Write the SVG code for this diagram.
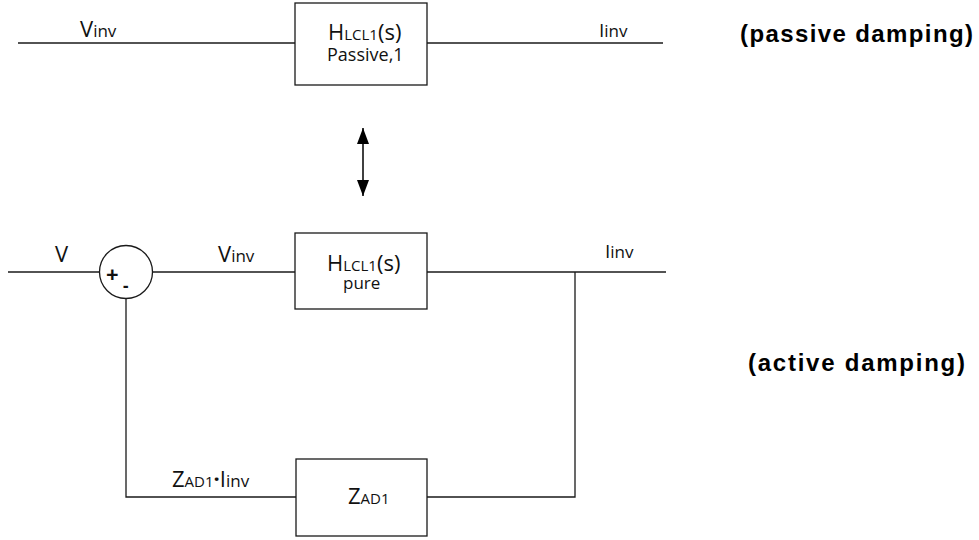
<svg xmlns="http://www.w3.org/2000/svg" width="979" height="540" viewBox="0 0 979 540">
<style>
.w{stroke:#1a1a1a;stroke-width:1.3;fill:none}
.b{stroke:#1a1a1a;stroke-width:1.3;fill:#fff}
.t{font-family:"Open Sans","Liberation Sans",sans-serif;fill:#111}
.big{font-size:22px}
.par{font-size:22px}
.sm{font-size:17px}
.sub{font-size:15px}
.hd{font-family:"Liberation Sans",Arial,sans-serif;font-weight:bold;font-size:24px;fill:#000}
</style>
<defs>
<marker id="ah" viewBox="0 0 16 12" refX="16" refY="6" markerWidth="16" markerHeight="12" markerUnits="userSpaceOnUse" orient="auto-start-reverse">
<path d="M0,0 L16,6 L0,12 Z" fill="#000"/>
</marker>
</defs>
<rect width="979" height="540" fill="#fff"/>
<g id="connectors">
<line class="w" x1="18" y1="43" x2="295" y2="43"/>
<line class="w" x1="427" y1="43" x2="663" y2="43"/>
<line class="w" x1="8" y1="272" x2="99.5" y2="272"/>
<line class="w" x1="152.5" y1="272" x2="295" y2="272"/>
<line class="w" x1="427" y1="272" x2="666" y2="272"/>
<polyline class="w" points="575,272 575,497 427,497"/>
<polyline class="w" points="126,298.5 126,497 296,497"/>
<line x1="363" y1="128" x2="363" y2="196" stroke="#000" stroke-width="1.5" marker-start="url(#ah)" marker-end="url(#ah)"/>
</g>
<g id="passive-block">
<rect class="b" x="295" y="3" width="132" height="82"/>
<text class="t" x="328" y="40"><tspan class="big">H</tspan><tspan class="sub">LCL1</tspan><tspan class="par">(s)</tspan></text>
<text class="t" x="327" y="61" font-size="18px">Passive,1</text>
</g>
<g id="top-labels">
<text class="t" x="80" y="37"><tspan class="big">V</tspan><tspan class="sm">inv</tspan></text>
<text class="t" x="599" y="37"><tspan font-size="19px">I</tspan><tspan class="sm">inv</tspan></text>
<text class="hd" x="740" y="42" textLength="233">(passive damping)</text>
</g>
<g id="sum">
<circle class="b" cx="126" cy="272" r="26.5"/>
<text class="t" x="106" y="282" font-size="22px" font-weight="bold">+</text>
<text class="t" x="123" y="292" font-size="17px" font-weight="bold">-</text>
</g>
<g id="pure-block">
<rect class="b" x="295" y="233" width="132" height="76"/>
<text class="t" x="327" y="271"><tspan class="big">H</tspan><tspan class="sub">LCL1</tspan><tspan class="par">(s)</tspan></text>
<text class="t" x="343" y="289" font-size="17px">pure</text>
</g>
<g id="ad-block">
<rect class="b" x="296" y="459" width="131" height="77"/>
<text class="t" x="348" y="504"><tspan class="big">Z</tspan><tspan class="sub">AD1</tspan></text>
</g>
<g id="bottom-labels">
<text class="t big" x="55" y="262">V</text>
<text class="t" x="218" y="262"><tspan class="big">V</tspan><tspan class="sm">inv</tspan></text>
<text class="t" x="605" y="258"><tspan font-size="19px">I</tspan><tspan class="sm">inv</tspan></text>
<text class="t" x="172" y="487"><tspan class="big">Z</tspan><tspan class="sub">AD1</tspan><tspan class="big" font-weight="bold">·</tspan><tspan class="big">I</tspan><tspan class="sm">inv</tspan></text>
<text class="hd" x="748" y="371" textLength="217">(active damping)</text>
</g>
</svg>
